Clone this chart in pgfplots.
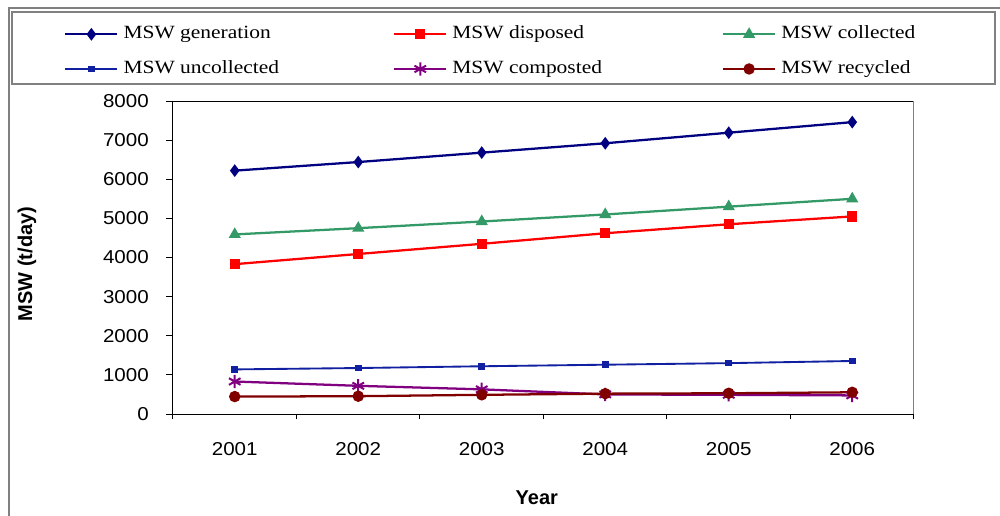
\documentclass[border=0pt]{standalone}
\usepackage{pgfplots}
\pgfplotsset{compat=1.18}
\usepackage{fontspec}
\setmainfont{Liberation Sans}
\newfontfamily\legfont{Liberation Serif}[FakeStretch=1.15]
\newfontfamily\tickfont{Liberation Sans}[FakeStretch=1.1]

\definecolor{cGen}{RGB}{0,0,128}
\definecolor{cDisp}{RGB}{255,0,0}
\definecolor{cColl}{RGB}{51,153,102}
\definecolor{cUnc}{RGB}{16,32,160}
\definecolor{cComp}{RGB}{128,0,128}
\definecolor{cRec}{RGB}{128,0,0}
\definecolor{frame}{RGB}{128,128,128}

\begin{document}
\begin{tikzpicture}
% page extent and outer frames
\path[use as bounding box] (0pt,0pt) rectangle (750pt,-387pt);
\draw[frame, line width=1.1pt] (750pt,-6pt) -- (6.75pt,-6pt) -- (6.75pt,-387pt);
\draw[frame, line width=1.1pt] (9pt,-9pt) rectangle (746.25pt,-63pt);

\begin{axis}[
  at={(129.75pt,-310.5pt)}, anchor=south west,
  scale only axis, width=555.75pt, height=234.75pt,
  xmin=0.5, xmax=6.5, ymin=0, ymax=8000,
  xtick={1,...,6}, xticklabels={2001,2002,2003,2004,2005,2006},
  minor xtick={0.5,1.5,...,6.5},
  ytick={0,1000,...,8000},
  tick align=outside, tick pos=left,
  major tick length=5.25pt, minor tick length=4pt,
  major x tick style={draw=none},
  tick style={black, line width=0.75pt},
  axis line style={black, line width=0.75pt},
  /pgf/number format/assume math mode=true,
  yticklabel style={font=\tickfont\fontsize{14}{16}\selectfont, anchor=east,
    inner sep=0pt, xshift=-12.75pt, /pgf/number format/1000 sep={}},
  xticklabel style={font=\tickfont\fontsize{14}{16}\selectfont, anchor=center,
    inner sep=0pt, yshift=-21pt},
  xlabel={\bfseries Year},
  xlabel style={font=\fontsize{15}{17}\selectfont, at={(axis description cs:0.491,-0.268)}, anchor=center},
  ylabel={\bfseries MSW (t/day)},
  ylabel style={font=\fontsize{15}{17}\selectfont, at={(axis description cs:-0.197,0.479)}, anchor=center},
  legend columns=3,
  legend cell align=left,
  legend style={draw=none, fill=none, at={(-0.1525,1.2502)}, anchor=north west,
    font=\legfont\fontsize{14}{16}\selectfont,
    nodes={inner sep=0pt, text height=10pt, text depth=3pt},
    row sep=13pt,
    /tikz/every odd column/.append style={column sep=3.75pt},
    /tikz/every even column/.append style={column sep=2.2pt}},
  legend image code/.code={\draw[mark repeat=2,mark phase=2]
    plot coordinates {(0pt,0pt) (19.5pt,0pt) (39pt,0pt)};},
]
\addplot[cGen, line width=1.7pt, mark=diamond*, mark size=3.4pt, mark options={solid, fill=cGen}]
  coordinates {(1,6220) (2,6440) (3,6680) (4,6920) (5,7190) (6,7460)};
\addlegendentry{\makebox[200pt][l]{MSW generation}}
\addplot[cDisp, line width=1.7pt, mark=square*, mark size=3pt, mark options={solid, fill=cDisp}]
  coordinates {(1,3830) (2,4090) (3,4350) (4,4620) (5,4850) (6,5050)};
\addlegendentry{\makebox[200pt][l]{MSW disposed}}
\addplot[cColl, line width=1.7pt, mark=triangle*, mark size=3.6pt, mark options={solid, fill=cColl}]
  coordinates {(1,4590) (2,4750) (3,4920) (4,5100) (5,5300) (6,5500)};
\addlegendentry{\makebox[200pt][l]{MSW collected}}
\addplot[cUnc, line width=1.4pt, mark=square*, mark size=1.8pt, mark options={solid, fill=cUnc}]
  coordinates {(1,1140) (2,1175) (3,1220) (4,1260) (5,1300) (6,1355)};
\addlegendentry{\makebox[200pt][l]{MSW uncollected}}
\addplot[cComp, line width=1.7pt, mark=asterisk, mark size=5pt, mark options={solid, line width=1.5pt}]
  coordinates {(1,830) (2,720) (3,630) (4,500) (5,490) (6,475)};
\addlegendentry{\makebox[200pt][l]{MSW composted}}
\addplot[cRec, line width=1.7pt, mark=*, mark size=3.4pt, mark options={solid, fill=cRec}]
  coordinates {(1,445) (2,455) (3,490) (4,520) (5,530) (6,555)};
\addlegendentry{MSW recycled}
\draw[frame, line width=0.75pt] (rel axis cs:1,0) -- (rel axis cs:1,1);
\end{axis}
\end{tikzpicture}
\end{document}
